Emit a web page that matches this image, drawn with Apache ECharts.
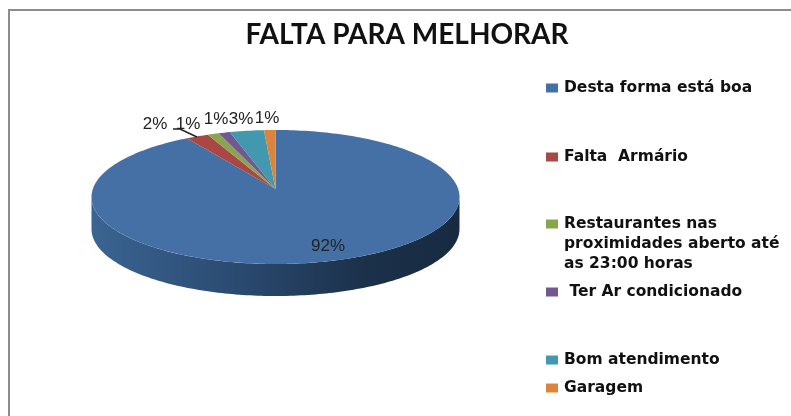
<!DOCTYPE html>
<html><head><meta charset="utf-8">
<style>html,body{margin:0;padding:0;background:#fff}#c{width:791px;height:416px}</style>
<script src="https://cdn.jsdelivr.net/npm/echarts@6/dist/echarts.min.js"></script>
</head><body><div id="c"></div>
<script>
const titleText = 'FALTA PARA MELHORAR';
const categories = ['Desta forma está boa','Falta  Armário','Restaurantes nas\nproximidades aberto até\nas 23:00 horas',' Ter Ar condicionado','Bom atendimento','Garagem'];
const values = [92,2,1,1,3,1];
const colors = ['#4470A6','#AA4643','#89A54E','#71588F','#4198AF','#DB843D'];
const legendCenters = [88,157,224,292,360,388];
const labelPos = [[328,246],[155,124],[188,124],[216,119],[241,119],[267,118]];

const P = {cx:275.5, cy:197, rx:184, ry:67, depth:32, apexY:189};
const total = values.reduce((a,b)=>a+b,0);
// slices run clockwise from 12 o'clock
let acc = 0;
const starts = values.map(v=>{const s=acc; acc+=v; return s/total*Math.PI*2;});
const pt = (a,dy=0)=>[P.cx+P.rx*Math.sin(a), P.cy-P.ry*Math.cos(a)+dy];
function arc(a0,a1,dy=0){
  const n=Math.max(2,Math.ceil((a1-a0)/0.02)), out=[];
  for(let i=0;i<=n;i++) out.push(pt(a0+(a1-a0)*i/n,dy));
  return out;
}
function renderSlice(idx){
  return function(params,api){
    const a0=starts[idx], a1=a0+values[idx]/total*Math.PI*2;
    const kids=[];
    if(idx===0){
      const top=arc(Math.PI/2,3*Math.PI/2), bot=arc(Math.PI/2,3*Math.PI/2,P.depth).reverse();
      kids.push({type:'polygon',shape:{points:top.concat(bot)},style:{
        fill:new echarts.graphic.LinearGradient(1,0,0,0,[
          {offset:0,color:'#172A42'},{offset:0.25,color:'#1B3049'},{offset:0.6,color:'#2A4A70'},{offset:1,color:'#3A6492'}])}});
    }
    kids.push({type:'polygon',shape:{points:[[P.cx,P.apexY]].concat(arc(a0,a1))},style:{fill:colors[idx]}});
    return {type:'group',children:kids};
  };
}
const series = categories.map((name,i)=>({
  type:'custom',name,coordinateSystem:'none',silent:true,
  color:colors[i],itemStyle:{color:colors[i]},
  renderItem:renderSlice(i),data:[values[i]],animation:false,z:2
}));
series.push({type:'custom',coordinateSystem:'none',silent:true,animation:false,z:5,data:[0],
  renderItem(){
    const kids=values.map((v,i)=>({type:'text',x:labelPos[i][0],y:labelPos[i][1],
      style:{text:v+'%',fill:'#222',font:'17px "Liberation Sans"',align:'center',verticalAlign:'middle'}}));
    kids.unshift({type:'polyline',shape:{points:[[173,129],[180,129],[197,137]]},style:{fill:'none',stroke:'#222',lineWidth:1.4}});
    return {type:'group',children:kids};
  }});
const legends = categories.map((name,i)=>{
  const extra=name.split('\n').length-1;
  // leading blank lines keep the swatch level with the first line of wrapped text
  return {
    data:[name],left:546,top:legendCenters[i]-10-20*extra,
    orient:'vertical',padding:0,formatter:n=>'\n'.repeat(extra)+n,
    itemWidth:12,itemHeight:9,itemGap:0,selectedMode:false,icon:'rect',
    textStyle:{color:'#111',fontFamily:'DejaVu Sans',fontWeight:'bold',fontSize:15.5,lineHeight:20,padding:[0,0,0,1]}
  };
});
const chart=echarts.init(document.getElementById('c'),null,{renderer:'canvas'});
chart.setOption({
  animation:false,backgroundColor:'#fff',
  title:{text:titleText,left:407,top:21,textAlign:'center',padding:0,
    textStyle:{fontFamily:'Lato',fontWeight:'bold',fontSize:28,color:'#111'}},
  graphic:[{type:'polyline',silent:true,shape:{points:[[9,416],[9,10],[791,10]]},style:{fill:'none',stroke:'#8c8c8c',lineWidth:2}}],
  legend:legends,series
});
</script></body></html>
